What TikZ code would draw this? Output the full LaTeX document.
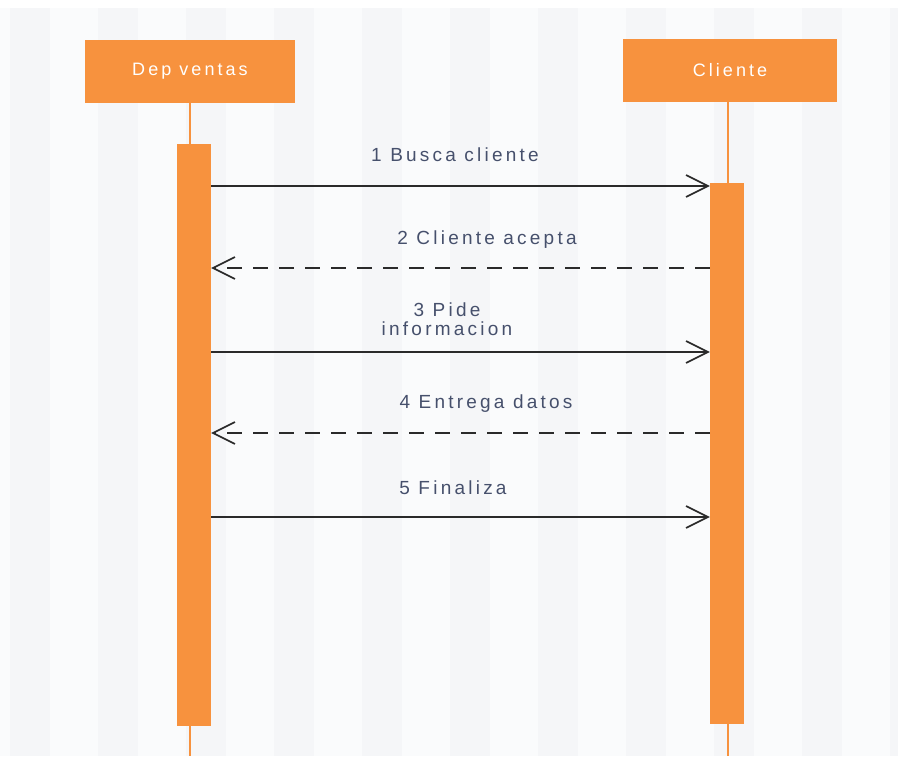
\documentclass[tikz,border=0pt]{standalone}
\usepackage{fontspec}
\setmainfont{Liberation Sans}
\newfontfamily\seqfont[LetterSpace=17]{Liberation Sans}
\usetikzlibrary{arrows.meta}

\definecolor{actor}{HTML}{F7923E}
\definecolor{msgtext}{HTML}{46506C}
\definecolor{msgline}{HTML}{2A2A2A}
\definecolor{paper}{HTML}{FAFBFC}
\definecolor{band}{HTML}{F5F6F8}

\begin{document}
\begin{tikzpicture}[x=1pt,y=-1pt,
  actorbox/.style={fill=actor, draw=none, inner sep=0pt, minimum height=63pt,
    text=white, font=\seqfont\fontsize{18}{20}\selectfont},
  activation/.style={fill=actor, draw=none, inner sep=0pt, minimum width=34pt},
  lifeline/.style={draw=actor, line width=2.2pt},
  msgtip/.style={-{Straight Barb[length=22pt,width=22pt,line width=1.6pt]}},
  call/.style={msgtip, draw=msgline, line width=1.8pt},
  reply/.style={msgtip, draw=msgline, line width=1.8pt, dash pattern=on 15pt off 11pt},
  msglabel/.style={text=msgtext, inner sep=0pt, align=center,
    font=\seqfont\fontsize{19}{19}\selectfont}
]
  \useasboundingbox (0,0) rectangle (898,756);

  % canvas with faint vertical bands
  \begin{scope}
    \clip (0,0) rectangle (898,756);
    \fill[paper] (0,0) rectangle (898,756);
    \foreach \i in {0,...,10}
      \fill[band] (88*\i+10,8) rectangle (88*\i+50,756);
    \fill[white] (0,0) rectangle (898,8);
  \end{scope}

  % participants
  \node[actorbox, minimum width=210pt] (dep) at (190,71.5) {Dep ventas};
  \node[actorbox, minimum width=214pt] (cli) at (730,70.5) {Cliente};

  % lifelines run down to the bottom edge
  \coordinate (depEnd) at (190,756);
  \coordinate (cliEnd) at (728,756);
  \draw[lifeline] (dep.south -| depEnd) -- (depEnd);
  \draw[lifeline] (cli.south -| cliEnd) -- (cliEnd);

  % activation bars
  \node[activation, minimum height=582pt] (lbar) at (194,435) {};
  \node[activation, minimum height=541pt] (rbar) at (727,453.5) {};

  % message rows
  \coordinate (m1) at (0,186);
  \coordinate (m2) at (0,268);
  \coordinate (m3) at (0,352);
  \coordinate (m4) at (0,433);
  \coordinate (m5) at (0,517);

  \draw[call]  (lbar.east |- m1) -- (rbar.west |- m1);
  \draw[reply] (rbar.west |- m2) -- (lbar.east |- m2);
  \draw[call]  (lbar.east |- m3) -- (rbar.west |- m3);
  \draw[reply] (rbar.west |- m4) -- (lbar.east |- m4);
  \draw[call]  (lbar.east |- m5) -- (rbar.west |- m5);

  % message labels
  \node[msglabel] (l1) at (455,155) {1 Busca cliente};
  \node[msglabel] (l2) at (487,240) {2 Cliente acepta};
  \node[msglabel] (l3) at (447,319) {3 Pide\\informacion};
  \node[msglabel] (l4) at (486,404) {4 Entrega datos};
  \node[msglabel] (l5) at (453,488) {5 Finaliza};
\end{tikzpicture}
\end{document}
